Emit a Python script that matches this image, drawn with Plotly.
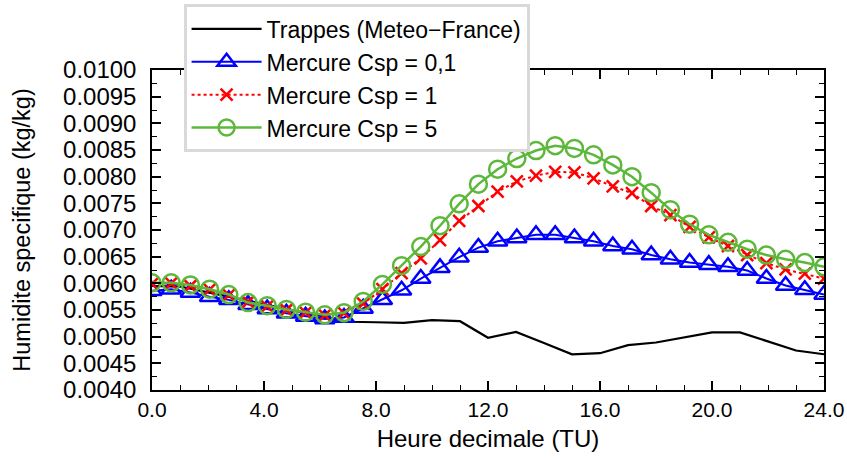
import plotly.graph_objects as go

# Model time axis (hours) - 36 output steps
x_model = [0.0, 0.686, 1.371, 2.057, 2.743, 3.429, 4.114, 4.8, 5.486, 6.171,
           6.857, 7.543, 8.229, 8.914, 9.6, 10.286, 10.971, 11.657, 12.343, 13.029,
           13.714, 14.4, 15.086, 15.771, 16.457, 17.143, 17.829, 18.514, 19.2, 19.886,
           20.571, 21.257, 21.943, 22.629, 23.314, 24.0]

# Observations (hourly)
x_obs = [0, 1, 2, 3, 4, 5, 6, 7, 8, 9, 10, 11, 12, 13, 14, 15, 16, 17, 18, 19, 20, 21, 22, 23, 24]
trappes = [0.00595, 0.00594, 0.00583, 0.00572, 0.00560, 0.00550, 0.00539, 0.00528, 0.00527,
           0.00526, 0.00531, 0.00529, 0.00498, 0.00509, 0.00488, 0.00467, 0.00469, 0.00484,
           0.00489, 0.00498, 0.00508, 0.00508, 0.00491, 0.00474, 0.00467]

csp_01 = [0.00586, 0.00589, 0.00583, 0.00575, 0.00569, 0.00560, 0.00552, 0.00544, 0.00538, 0.00533,
          0.00536, 0.00553, 0.00569, 0.00587, 0.00609, 0.00629, 0.00649, 0.00667, 0.00679, 0.00685,
          0.00691, 0.00691, 0.00685, 0.00679, 0.00670, 0.00664, 0.00653, 0.00645, 0.00639, 0.00635,
          0.00631, 0.00624, 0.00609, 0.00596, 0.00588, 0.00579]

csp_1 = [0.00599, 0.00600, 0.00595, 0.00588, 0.00578, 0.00565, 0.00557, 0.00550, 0.00545, 0.00540,
         0.00544, 0.00562, 0.00589, 0.00619, 0.00647, 0.00681, 0.00717, 0.00745, 0.00772, 0.00791,
         0.00802, 0.00809, 0.00808, 0.00797, 0.00782, 0.00769, 0.00745, 0.00728, 0.00706, 0.00686,
         0.00670, 0.00653, 0.00638, 0.00626, 0.00618, 0.00609]

csp_5 = [0.00601, 0.00601, 0.00597, 0.00589, 0.00579, 0.00564, 0.00558, 0.00551, 0.00546, 0.00541,
         0.00545, 0.00566, 0.00598, 0.00633, 0.00669, 0.00708, 0.00749, 0.00786, 0.00814, 0.00834,
         0.00849, 0.00858, 0.00853, 0.00841, 0.00822, 0.00800, 0.00770, 0.00738, 0.00711, 0.00691,
         0.00677, 0.00664, 0.00653, 0.00645, 0.00639, 0.00631]

names = ["Trappes (Meteo\u2212France)", "Mercure Csp = 0,1", "Mercure Csp = 1", "Mercure Csp = 5"]

FONT = "Liberation Sans, Arial, sans-serif"
green = "#5cb83a"

fig = go.Figure()
fig.add_trace(go.Scatter(x=x_obs, y=trappes, mode="lines", name=names[0],
                         line=dict(color="black", width=2.2)))
fig.add_trace(go.Scatter(x=x_model, y=csp_01, mode="lines+markers", name=names[1],
                         line=dict(color="#0000ff", width=2),
                         marker=dict(symbol="triangle-up-open", size=17, color="#0000ff",
                                     line=dict(width=2.5, color="#0000ff"))))
fig.add_trace(go.Scatter(x=x_model, y=csp_1, mode="lines+markers", name=names[2],
                         line=dict(color="#ff0000", width=2, dash="dot"),
                         marker=dict(symbol="x-thin-open", size=12, color="#ff0000",
                                     line=dict(width=2.5, color="#ff0000"))))
fig.add_trace(go.Scatter(x=x_model, y=csp_5, mode="lines+markers", name=names[3],
                         line=dict(color=green, width=2.5),
                         marker=dict(symbol="circle-open", size=17, color=green,
                                     line=dict(width=2.5, color=green))))

fig.update_layout(
    width=847, height=459,
    margin=dict(l=152, r=23, t=70, b=69, autoexpand=False),
    paper_bgcolor="white", plot_bgcolor="white",
    font=dict(family=FONT, size=22, color="black"),
    showlegend=True,
    legend=dict(x=0.047, y=1.205, xanchor="left", yanchor="top",
                bgcolor="white", bordercolor="#d9d9d9", borderwidth=3,
                font=dict(family=FONT, size=23, color="black"),
                itemwidth=70, tracegroupgap=0),
)
fig.update_xaxes(range=[0, 24], dtick=4, tick0=0, tickformat=".1f",
                 showgrid=False, zeroline=False,
                 showline=True, linecolor="black", linewidth=1.5, mirror="ticks",
                 ticks="inside", ticklen=9, tickwidth=1.5, tickcolor="black",
                 minor=dict(dtick=1, ticks="inside", ticklen=5, tickwidth=1.2, tickcolor="black"),
                 tickfont=dict(size=21),
                 title=dict(text="Heure decimale (TU)", font=dict(size=24), standoff=10))
fig.update_yaxes(range=[0.004, 0.010], dtick=0.0005, tick0=0.004, tickformat=".4f",
                 showgrid=False, zeroline=False,
                 showline=True, linecolor="black", linewidth=1.5, mirror="ticks",
                 ticks="inside", ticklen=9, tickwidth=1.5, tickcolor="black",
                 minor=dict(dtick=0.00025, ticks="inside", ticklen=5, tickwidth=1.2, tickcolor="black"),
                 tickfont=dict(size=24), ticklabelstandoff=9,
                 title=dict(text="Humidite specifique (kg/kg)", font=dict(size=23.5), standoff=26))

fig.write_html("out.html", config={"displayModeBar": False},
               post_script="document.body.style.margin='0';document.body.style.overflow='hidden';")
